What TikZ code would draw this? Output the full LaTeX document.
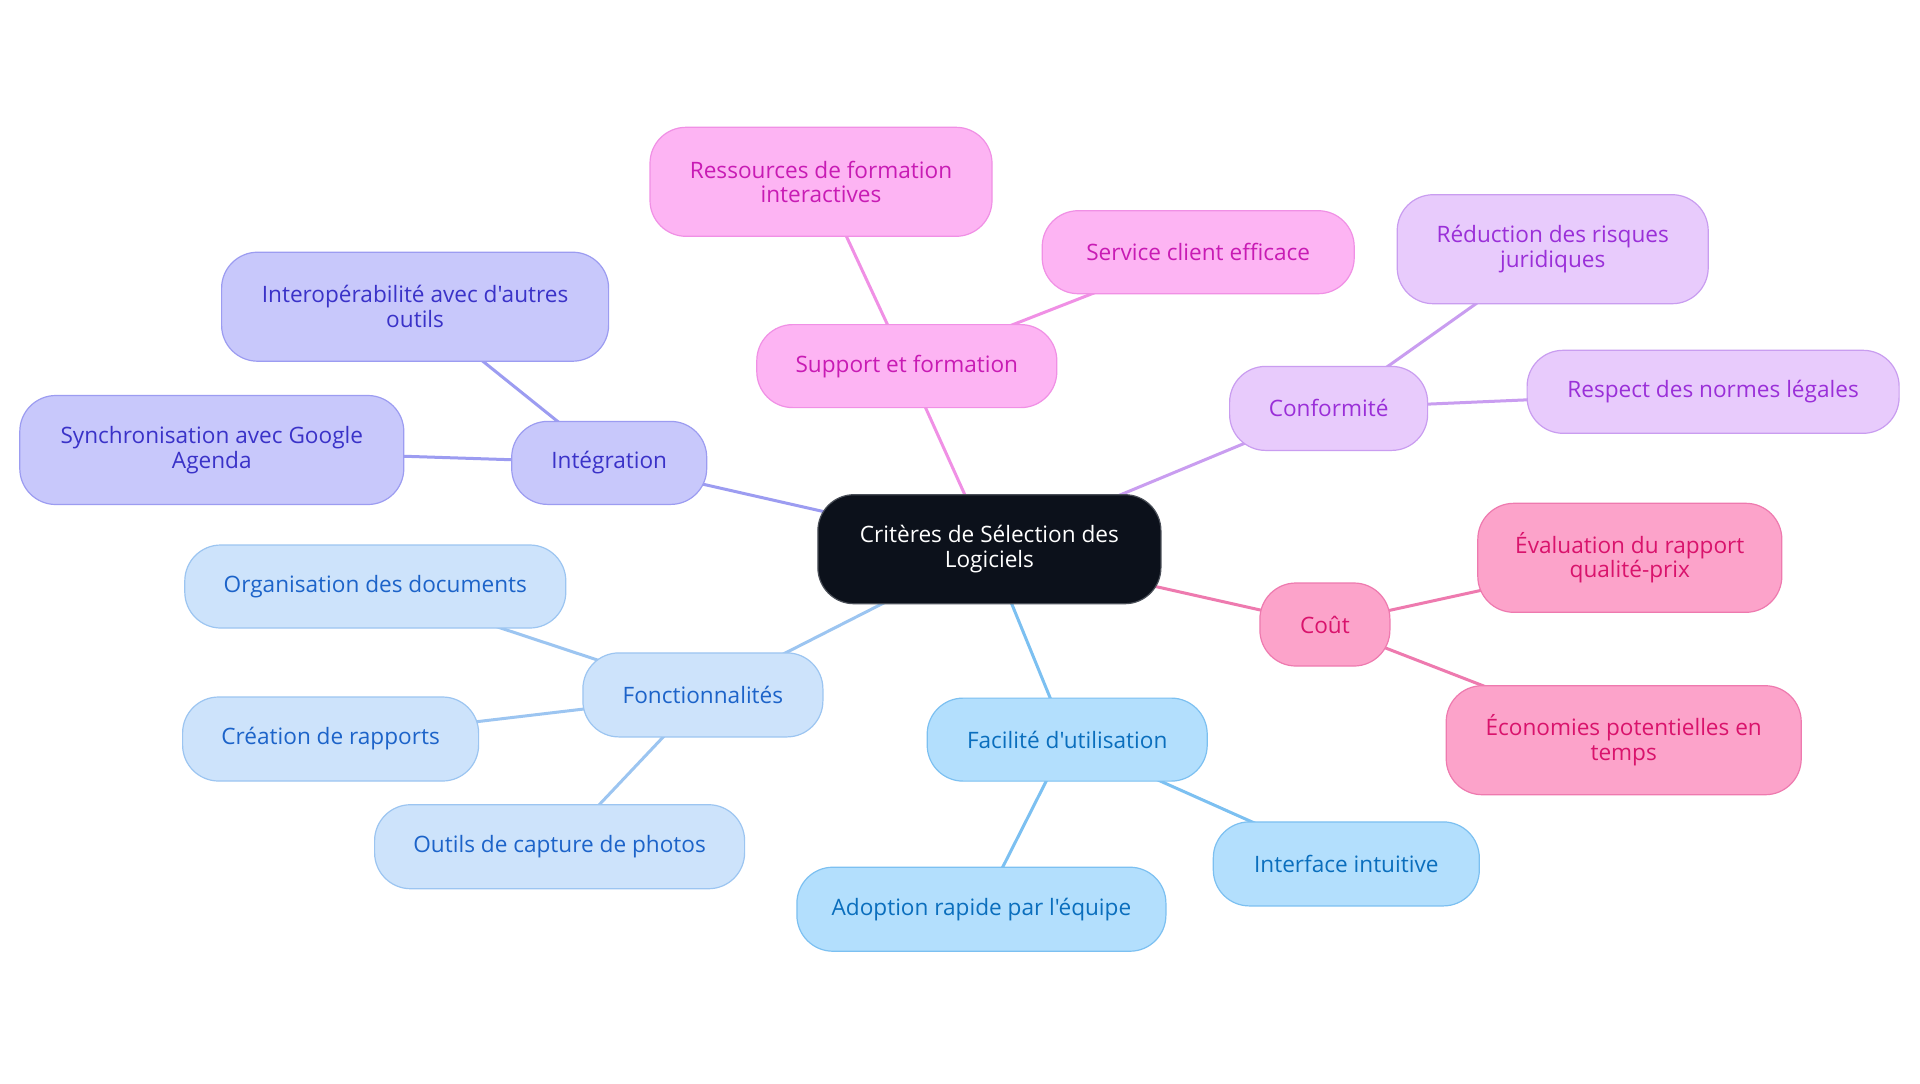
\documentclass[tikz,border=0pt]{standalone}
\usepackage{fontspec}
\setmainfont{Open Sans}[Ligatures=TeXOff]
\usetikzlibrary{backgrounds}
\definecolor{rootFill}{HTML}{0C111B}
\definecolor{rootDraw}{HTML}{4A4F58}
\definecolor{intFill}{HTML}{C8C8FB}
\definecolor{intDraw}{HTML}{9C9CF1}
\definecolor{intText}{HTML}{3A32C8}
\definecolor{supFill}{HTML}{FDB4F3}
\definecolor{supDraw}{HTML}{F090E5}
\definecolor{supText}{HTML}{C81BB4}
\definecolor{conFill}{HTML}{E8CBFC}
\definecolor{conDraw}{HTML}{C99DF0}
\definecolor{conText}{HTML}{9A2FD8}
\definecolor{coutFill}{HTML}{FCA3CA}
\definecolor{coutDraw}{HTML}{EE7AAF}
\definecolor{coutText}{HTML}{D9136C}
\definecolor{fonFill}{HTML}{CDE3FB}
\definecolor{fonDraw}{HTML}{9CC5F1}
\definecolor{fonText}{HTML}{1C63C9}
\definecolor{facFill}{HTML}{B3DFFD}
\definecolor{facDraw}{HTML}{7CC0F1}
\definecolor{facText}{HTML}{0A6EBD}
\tikzset{
  box/.style={rectangle, rounded corners=18pt, line width=0.6pt, align=center,
    inner sep=0pt, font=\fontsize{11.3}{12.3}\selectfont},
  rootbox/.style={box, fill=rootFill, draw=rootDraw, text=white},
  intbox/.style={box, fill=intFill, draw=intDraw, text=intText},
  supbox/.style={box, fill=supFill, draw=supDraw, text=supText},
  conbox/.style={box, fill=conFill, draw=conDraw, text=conText},
  coutbox/.style={box, fill=coutFill, draw=coutDraw, text=coutText},
  fonbox/.style={box, fill=fonFill, draw=fonDraw, text=fonText},
  facbox/.style={box, fill=facFill, draw=facDraw, text=facText},
  link/.style={line width=1.5pt},
  sz/.style 2 args={minimum width=#1*0.5pt, minimum height=#2*0.5pt}
}
\begin{document}
\begin{tikzpicture}[x=0.5pt, y=-0.5pt]
\useasboundingbox (0,0) rectangle (1920,1083);
% root
\node[rootbox, sz={343}{109}] (root) at (989.4,549.2) {Critères de Sélection des\\Logiciels};
% Intégration
\node[intbox, sz={195}{83}] (int) at (609.2,462.9) {Intégration};
\node[intbox, sz={387}{109}] (interop) at (415.1,306.7) {Interopérabilité avec d'autres\\outils};
\node[intbox, sz={384}{109}] (sync) at (211.8,450.0) {Synchronisation avec Google\\Agenda};
% Support
\node[supbox, sz={300}{83}] (sup) at (906.8,366.1) {Support et formation};
\node[supbox, sz={342}{109}] (res) at (821.0,181.8) {Ressources de formation\\interactives};
\node[supbox, sz={312}{83}] (serv) at (1198.2,252.2) {Service client efficace};
% Conformité
\node[conbox, sz={198}{84}] (conf) at (1328.6,408.4) {Conformité};
\node[conbox, sz={311}{109}] (red) at (1552.7,249.2) {Réduction des risques\\juridiques};
\node[conbox, sz={372}{83}] (resp) at (1713.1,391.8) {Respect des normes légales};
% Coût
\node[coutbox, sz={130}{83}] (cout) at (1324.9,624.5) {Coût};
\node[coutbox, sz={304}{109}] (eval) at (1629.8,557.8) {Évaluation du rapport\\qualité-prix};
\node[coutbox, sz={355}{109}] (eco) at (1623.7,740.2) {Économies potentielles en\\temps};
% Fonctionnalités
\node[fonbox, sz={240}{84}] (fon) at (702.9,694.9) {Fonctionnalités};
\node[fonbox, sz={381}{83}] (org) at (375.3,586.5) {Organisation des documents};
\node[fonbox, sz={296}{84}] (crea) at (330.6,739.0) {Création de rapports};
\node[fonbox, sz={370}{84}] (outil) at (559.6,846.7) {Outils de capture de photos};
% Facilité
\node[facbox, sz={280}{83}] (fac) at (1067.2,739.6) {Facilité d'utilisation};
\node[facbox, sz={266}{84}] (inter) at (1346.3,863.9) {Interface intuitive};
\node[facbox, sz={369}{84}] (adop) at (981.4,909.2) {Adoption rapide par l'équipe};
\begin{pgfonlayer}{background}
\fill[white] (0,0) rectangle (1920,1083);
\draw[link, intDraw] (root.center) -- (int.center);
\draw[link, intDraw] (int.center) -- (interop.center);
\draw[link, intDraw] (int.center) -- (sync.center);
\draw[link, supDraw] (root.center) -- (sup.center);
\draw[link, supDraw] (sup.center) -- (res.center);
\draw[link, supDraw] (sup.center) -- (serv.center);
\draw[link, conDraw] (root.center) -- (conf.center);
\draw[link, conDraw] (conf.center) -- (red.center);
\draw[link, conDraw] (conf.center) -- (resp.center);
\draw[link, coutDraw] (root.center) -- (cout.center);
\draw[link, coutDraw] (cout.center) -- (eval.center);
\draw[link, coutDraw] (cout.center) -- (eco.center);
\draw[link, fonDraw] (root.center) -- (fon.center);
\draw[link, fonDraw] (fon.center) -- (org.center);
\draw[link, fonDraw] (fon.center) -- (crea.center);
\draw[link, fonDraw] (fon.center) -- (outil.center);
\draw[link, facDraw] (root.center) -- (fac.center);
\draw[link, facDraw] (fac.center) -- (inter.center);
\draw[link, facDraw] (fac.center) -- (adop.center);
\end{pgfonlayer}
\end{tikzpicture}
\end{document}
